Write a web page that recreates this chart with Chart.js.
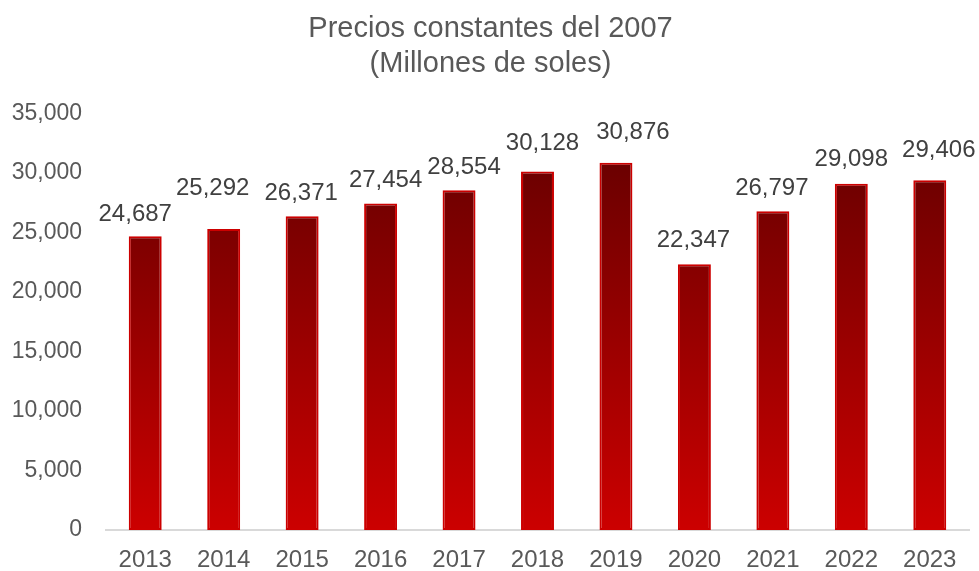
<!DOCTYPE html>
<html>
  <head>
    <title>Precios constantes del 2007</title>
    <script src="https://cdn.jsdelivr.net/npm/chart.js"></script>
    <style>
      body { margin: 0; background: #fff; font-family: Arial, "Liberation Sans", sans-serif; }
      .chart-container { width: 979px; height: 571px; }
    </style>
  </head>
  <body>
    <div class="chart-container">
      <canvas id="pbiChart"></canvas>
    </div>
    <script>
      const years = ['2013', '2014', '2015', '2016', '2017', '2018', '2019', '2020', '2021', '2022', '2023'];
      const values = [24687, 25292, 26371, 27454, 28554, 30128, 30876, 22347, 26797, 29098, 29406];
      const yTicks = [0, 5000, 10000, 15000, 20000, 25000, 30000, 35000];

      // labels were nudged by hand in the original, relative to each bar
      const labelShiftX = [-10, -11, -1, 5, 5, 5, 17, -1, -1, 0, 9];
      const labelGap = [15, 34, 16, 16, 16, 22, 24, 17, 16, 18, 23];

      const fontFamily = 'Arial, "Liberation Sans", sans-serif';
      const fmt = v => v.toLocaleString('en-US');

      // vertical gradient over the plot area: dark at top, bright red at bottom
      function barGradient(context) {
        const chart = context.chart;
        const area = chart.chartArea;
        if (!area) return '#a00000';
        const g = chart.ctx.createLinearGradient(0, area.top, 0, area.bottom);
        g.addColorStop(0, '#5e0000');
        g.addColorStop(1, '#cc0000');
        return g;
      }

      const valueLabels = {
        id: 'valueLabels',
        afterDatasetsDraw(chart) {
          const ctx = chart.ctx;
          const meta = chart.getDatasetMeta(0);
          ctx.save();
          ctx.font = '24px ' + fontFamily;
          ctx.fillStyle = '#404040';
          ctx.textAlign = 'center';
          ctx.textBaseline = 'alphabetic';
          meta.data.forEach((bar, i) => {
            ctx.fillText(fmt(values[i]), bar.x + labelShiftX[i], bar.y - labelGap[i]);
          });
          ctx.restore();
        }
      };

      new Chart(document.getElementById('pbiChart'), {
        type: 'bar',
        data: {
          labels: years,
          datasets: [{
            data: values,
            backgroundColor: barGradient,
            borderColor: '#cc0000',
            borderWidth: 2,
            borderSkipped: false,
            barPercentage: 0.42,
            categoryPercentage: 1
          }]
        },
        plugins: [valueLabels],
        options: {
          responsive: true,
          maintainAspectRatio: false,
          animation: false,
          layout: { padding: { left: 12, right: 10, top: 12, bottom: 0 } },
          plugins: {
            legend: { display: false },
            tooltip: { enabled: false },
            title: {
              display: true,
              text: ['Precios constantes del 2007', '(Millones de soles)'],
              color: '#595959',
              font: { size: 29, weight: 'normal', family: fontFamily, lineHeight: 1.2 },
              padding: { top: 0, bottom: 32 }
            }
          },
          scales: {
            y: {
              min: 0,
              max: 35000,
              afterBuildTicks: axis => { axis.ticks = yTicks.map(v => ({ value: v })); },
              afterFit: axis => { axis.width = 94; },
              grid: { display: false, drawTicks: false },
              border: { display: false },
              ticks: {
                color: '#595959',
                padding: 24,
                font: { size: 23, family: fontFamily },
                callback: v => fmt(v)
              }
            },
            x: {
              afterFit: axis => { axis.height = 41; },
              grid: { display: false, drawTicks: false },
              border: { display: true, color: '#d9d9d9', width: 2 },
              ticks: {
                color: '#595959',
                padding: 17,
                font: { size: 24, family: fontFamily, lineHeight: 1.1 }
              }
            }
          }
        }
      });
    </script>
  </body>
</html>
